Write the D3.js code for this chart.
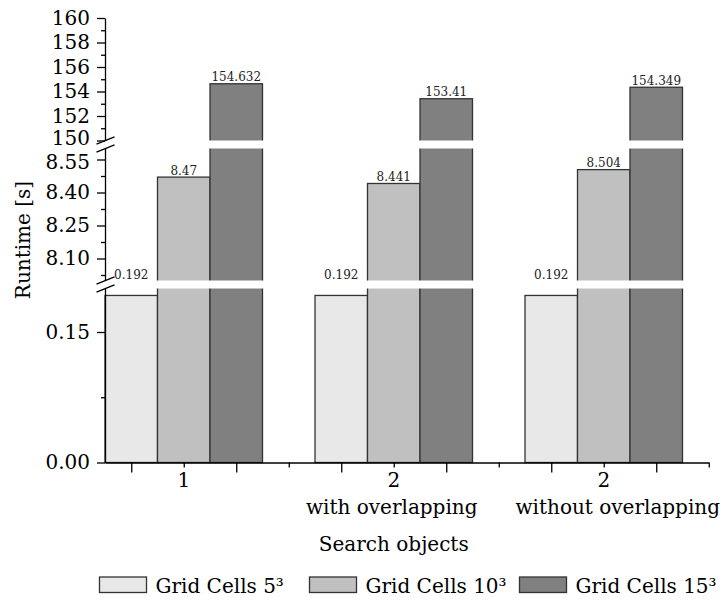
<!DOCTYPE html>
<html><head><meta charset="utf-8">
<script src="https://cdn.jsdelivr.net/npm/d3@7/dist/d3.min.js"></script>
<style>
html,body{margin:0;padding:0;background:#fff;}
svg{display:block;font-family:"DejaVu Serif",serif;}
</style></head>
<body>
<svg id="chart" width="726" height="601"></svg>
<script>
// ---- data ----
const categories = ["1", "2 with overlapping", "2 without overlapping"];
const catLine1 = ["1", "2", "2"];
const catLine2 = ["", "with overlapping", "without overlapping"];
const seriesNames = ["Grid Cells 5³", "Grid Cells 10³", "Grid Cells 15³"];
const cells5 = [0.192, 0.192, 0.192];
const cells10 = [8.47, 8.441, 8.504];
const cells15 = [154.632, 153.41, 154.349];
const seriesColors = ["#e8e8e8", "#c0c0c0", "#808080"];
const lowerTicks = [0, 0.15];
const lowerMinor = [0.075];
const middleTicks = [8.10, 8.25, 8.40, 8.55];
const middleMinor = [8.025, 8.175, 8.325, 8.475];
const upperTicks = [150, 152, 154, 156, 158, 160];
const upperMinor = [151, 153, 155, 157, 159];

const seriesValues = [cells5, cells10, cells15];
// horizontal nudge of the second label line (as in the reference)
const catLine2Shift = [0, -2, 14];

const svg = d3.select("#chart");

// ---- scales (broken y axis: three segments) ----
const segments = [
  {scale: d3.scaleLinear().domain([0, 0.2]).range([462.5, 288.5]), ticks: lowerTicks, minor: lowerMinor, fmt: d3.format(".2f")},
  {scale: d3.scaleLinear().domain([8.0, 8.6]).range([280.5, 148.5]), ticks: middleTicks, minor: middleMinor, fmt: d3.format(".2f")},
  {scale: d3.scaleLinear().domain([150, 160]).range([140.5, 18]), ticks: upperTicks, minor: upperMinor, fmt: d3.format("d")}
];
function segOf(v){ return v <= 0.2 ? 0 : (v <= 8.6 ? 1 : 2); }
function yOf(v){ return segments[segOf(v)].scale(v); }

// slot scale: each slot = one bar width; 3 bars per group + 1 gap slot
const xs = d3.scaleLinear().domain([-0.5, 11]).range([105, 708.75]);
const slotsPerGroup = 4;

// ---- bars ----
const bars = [];
categories.forEach((c, g) => {
  seriesNames.forEach((s, i) => {
    bars.push({g, i, v: seriesValues[i][g], k: g * slotsPerGroup + i});
  });
});

svg.append("g").selectAll("rect").data(bars).join("rect")
  .attr("x", d => xs(d.k - 0.5))
  .attr("width", d => xs(d.k + 0.5) - xs(d.k - 0.5))
  .attr("y", d => yOf(d.v))
  .attr("height", d => segments[0].scale(0) - yOf(d.v))
  .attr("fill", d => seriesColors[d.i])
  .attr("stroke", "#333")
  .attr("stroke-width", 1.3);

// gaps between segments (white)
const gapBands = [
  [segments[1].scale.range()[0], segments[0].scale.range()[1]],
  [segments[2].scale.range()[0], segments[1].scale.range()[1]]
];
svg.append("g").selectAll("rect").data(gapBands).join("rect")
  .attr("x", xs(-0.5) + 1)
  .attr("width", xs(11) - xs(-0.5))
  .attr("y", d => d[0])
  .attr("height", d => d[1] - d[0])
  .attr("fill", "#fff");

// ---- y axis segments ----
segments.forEach((seg, si) => {
  const major = svg.append("g").attr("transform", `translate(${xs(-0.5)},0)`)
    .call(d3.axisLeft(seg.scale).tickValues(seg.ticks).tickFormat(seg.fmt).tickSize(8).tickSizeOuter(0).tickPadding(7));
  major.select(".domain").attr("stroke", "#000").attr("stroke-width", 1.3);
  major.selectAll(".tick line").attr("stroke", "#000").attr("stroke-width", 1.3);
  major.selectAll(".tick text").attr("font-family", "DejaVu Serif").attr("font-size", 20).attr("fill", "#000");
  // labels next to the upper break are nudged apart so they don't collide
  if (si === 2) {
    major.selectAll(".tick text").filter(d => d === seg.scale.domain()[0]).attr("y", -2);
  }
  if (si === 1) {
    major.selectAll(".tick text").filter(d => d === seg.ticks[seg.ticks.length - 1]).attr("y", 3);
  }
  const minor = svg.append("g").attr("transform", `translate(${xs(-0.5)},0)`)
    .call(d3.axisLeft(seg.scale).tickValues(seg.minor).tickFormat("").tickSize(4).tickSizeOuter(0));
  minor.select(".domain").remove();
  minor.selectAll(".tick line").attr("stroke", "#000").attr("stroke-width", 1.3);
});

// break marks
const breakYs = [gapBands[0][0], gapBands[0][1], gapBands[1][0], gapBands[1][1]];
svg.append("g").selectAll("line").data(breakYs).join("line")
  .attr("x1", xs(-0.5) - 8.5).attr("x2", xs(-0.5) + 9.5)
  .attr("y1", d => d + 3.6).attr("y2", d => d - 3.6)
  .attr("stroke", "#000").attr("stroke-width", 1.3);

// ---- x axis ----
const allSlots = d3.range(0, 12);
const xMajor = svg.append("g").attr("transform", `translate(0,${segments[0].scale(0)})`)
  .call(d3.axisBottom(xs).tickValues(allSlots.filter(k => k % 2 === 0)).tickFormat("").tickSize(10).tickSizeOuter(0));
xMajor.select(".domain").attr("stroke", "#000").attr("stroke-width", 1.3);
xMajor.selectAll(".tick line").attr("stroke", "#000").attr("stroke-width", 1.3);
const xMinor = svg.append("g").attr("transform", `translate(0,${segments[0].scale(0)})`)
  .call(d3.axisBottom(xs).tickValues(allSlots.filter(k => k % 2 === 1)).tickFormat("").tickSize(5).tickSizeOuter(0));
xMinor.select(".domain").remove();
xMinor.selectAll(".tick line").attr("stroke", "#000").attr("stroke-width", 1.3);

// category labels
const catG = svg.append("g").attr("font-size", 20).attr("fill", "#000").attr("text-anchor", "middle");
categories.forEach((c, g) => {
  const cx = xs(g * slotsPerGroup + 1);
  catG.append("text").attr("x", cx).attr("y", 487).text(catLine1[g]);
  if (catLine2[g]) {
    catG.append("text").attr("x", cx + catLine2Shift[g]).attr("y", 514).text(catLine2[g]);
  }
});

// axis titles
svg.append("text").attr("x", xs(5)).attr("y", 551).attr("text-anchor", "middle")
  .attr("font-size", 20).text("Search objects");
svg.append("text").attr("transform", "translate(30,240) rotate(-90)").attr("text-anchor", "middle")
  .attr("font-size", 20).text("Runtime [s]");

// value labels
const labG = svg.append("g").attr("font-size", 12).attr("text-anchor", "middle").attr("fill", "#222");
bars.forEach(d => {
  const s = segOf(d.v);
  let yb = yOf(d.v) - 2.5;
  const segTop = segments[s].scale.range()[1];
  if (yb - 10 < segTop && s < 2) yb = segments[s + 1].scale.range()[0] - 2;
  labG.append("text").attr("x", xs(d.k)).attr("y", yb).text(String(d.v));
});

// ---- legend ----
const legX = d3.scaleLinear().domain([0, 2]).range([99.5, 519.5]);
const leg = svg.append("g").selectAll("g").data(seriesNames).join("g")
  .attr("transform", (d, i) => `translate(${legX(i)},577)`);
leg.append("rect").attr("width", 47).attr("height", 15.5)
  .attr("fill", (d, i) => seriesColors[i]).attr("stroke", "#333").attr("stroke-width", 1.3);
leg.append("text").attr("x", 56).attr("y", 15.5).attr("font-size", 20).text(d => d);
</script>
</body></html>
